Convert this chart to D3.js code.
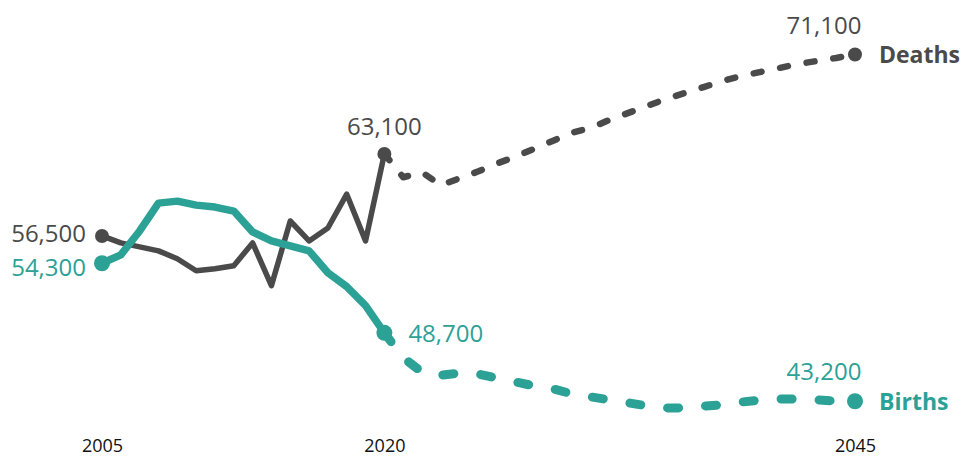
<!DOCTYPE html>
<html>
<head>
<meta charset="utf-8">
<script src="https://cdnjs.cloudflare.com/ajax/libs/d3/7.8.5/d3.min.js"></script>
<style>
  body { margin: 0; background: #fff; }
  text { font-family: "Open Sans", "Noto Sans", sans-serif; }
</style>
</head>
<body>
<svg id="chart"></svg>
<script>
var w = 963;
var h = 459;

// historic years and values
var histYears = [2005, 2006, 2007, 2008, 2009, 2010, 2011, 2012, 2013, 2014, 2015, 2016, 2017, 2018, 2019, 2020];
var histDeaths = [56500, 55940, 55620, 55300, 54660, 53700, 53860, 54100, 55940, 52500, 57700, 56100, 57140, 59860, 56100, 63100];
var histBirths = [54300, 54980, 56900, 59140, 59300, 58980, 58820, 58500, 56820, 56100, 55700, 55300, 53540, 52420, 50900, 48700];

// projections, starting at 2020
var projYears = [2020, 2021, 2022, 2023, 2024, 2025, 2026, 2027, 2028, 2029, 2030, 2031, 2032, 2033, 2034, 2035, 2036, 2037, 2038, 2039, 2040, 2041, 2042, 2043, 2044, 2045];
var projDeaths = [63100, 61220, 61620, 60580, 61140, 61700, 62340, 62900, 63540, 64180, 64820, 65220, 65860, 66420, 66980, 67540, 68020, 68500, 68980, 69380, 69700, 70020, 70340, 70580, 70820, 71100];
var projBirths = [48700, 46700, 45540, 45300, 45460, 45380, 45060, 44740, 44420, 44180, 43780, 43540, 43300, 43060, 42820, 42660, 42660, 42820, 42900, 43140, 43300, 43380, 43380, 43300, 43220, 43200];

var tickYears = [2005, 2020, 2045];

var darkCol = "#4a4a4a";
var tealCol = "#2ca196";

let svg = d3.select("#chart")
    .attr("width", w)
    .attr("height", h);

let xScale = d3.scaleLinear()
    .domain([2005, 2045])
    .range([102, 855]);

let yScale = d3.scaleLinear()
    .domain([40000, 75000])
    .range([441, 6]);

let zip = (years, vals) => years.map((y, i) => ({ year: y, value: vals[i] }));

let line = d3.line()
    .x(d => xScale(d.year))
    .y(d => yScale(d.value));

//series settings
let series = [
    { name: "Deaths", col: darkCol, hist: zip(histYears, histDeaths), proj: zip(projYears, projDeaths), w: 5.5, pw: 6.5, dash: "8 19", r: 7 },
    { name: "Births", col: tealCol, hist: zip(histYears, histBirths), proj: zip(projYears, projBirths), w: 7.5, pw: 9, dash: "11 27", r: 8 }
];

series.forEach(s => {
    svg.append("path")
        .datum(s.proj)
        .attr("d", line)
        .attr("fill", "none")
        .attr("stroke", s.col)
        .attr("stroke-width", s.pw)
        .attr("stroke-linecap", "round")
        .attr("stroke-linejoin", "round")
        .attr("stroke-dasharray", s.dash);
    svg.append("path")
        .datum(s.hist)
        .attr("d", line)
        .attr("fill", "none")
        .attr("stroke", s.col)
        .attr("stroke-width", s.w)
        .attr("stroke-linejoin", "round");
    let dots = [s.hist[0], s.hist[s.hist.length - 1], s.proj[s.proj.length - 1]];
    svg.selectAll(null)
        .data(dots)
        .enter()
        .append("circle")
        .attr("cx", d => xScale(d.year))
        .attr("cy", d => yScale(d.value))
        .attr("r", s.r)
        .attr("fill", s.col);
});

let fmt = d3.format(",");
let d0 = series[0], b0 = series[1];

//value labels
function valueLabel(d, col, dx, dy, anchor) {
    svg.append("text")
        .attr("x", xScale(d.year) + dx)
        .attr("y", yScale(d.value) + dy)
        .attr("text-anchor", anchor)
        .attr("fill", col)
        .attr("font-size", 24)
        .text(fmt(d.value));
}
valueLabel(d0.hist[0], darkCol, -16, 6, "end");
valueLabel(b0.hist[0], tealCol, -16, 13, "end");
valueLabel(d0.proj[0], darkCol, 0, -19, "middle");
valueLabel(b0.proj[0], tealCol, 24, 9, "start");
valueLabel(d0.proj[d0.proj.length - 1], darkCol, -31, -20, "middle");
valueLabel(b0.proj[b0.proj.length - 1], tealCol, -31, -21, "middle");

//series names
series.forEach(s => {
    let last = s.proj[s.proj.length - 1];
    svg.append("text")
        .attr("x", xScale(last.year) + 24)
        .attr("y", yScale(last.value) + 9)
        .attr("fill", s.col)
        .attr("font-size", 23)
        .attr("font-weight", "bold")
        .text(s.name);
});

//x axis labels
let xAxis = d3.axisBottom(xScale)
    .tickValues(tickYears)
    .tickFormat(d3.format("d"))
    .tickSize(0);
let ax = svg.append("g")
    .attr("transform", "translate(0, 436)")
    .call(xAxis);
ax.select(".domain").remove();
ax.selectAll("text")
    .attr("fill", "#111")
    .attr("font-size", 18)
    .style("font-family", "'Open Sans', sans-serif");
</script>
</body>
</html>
